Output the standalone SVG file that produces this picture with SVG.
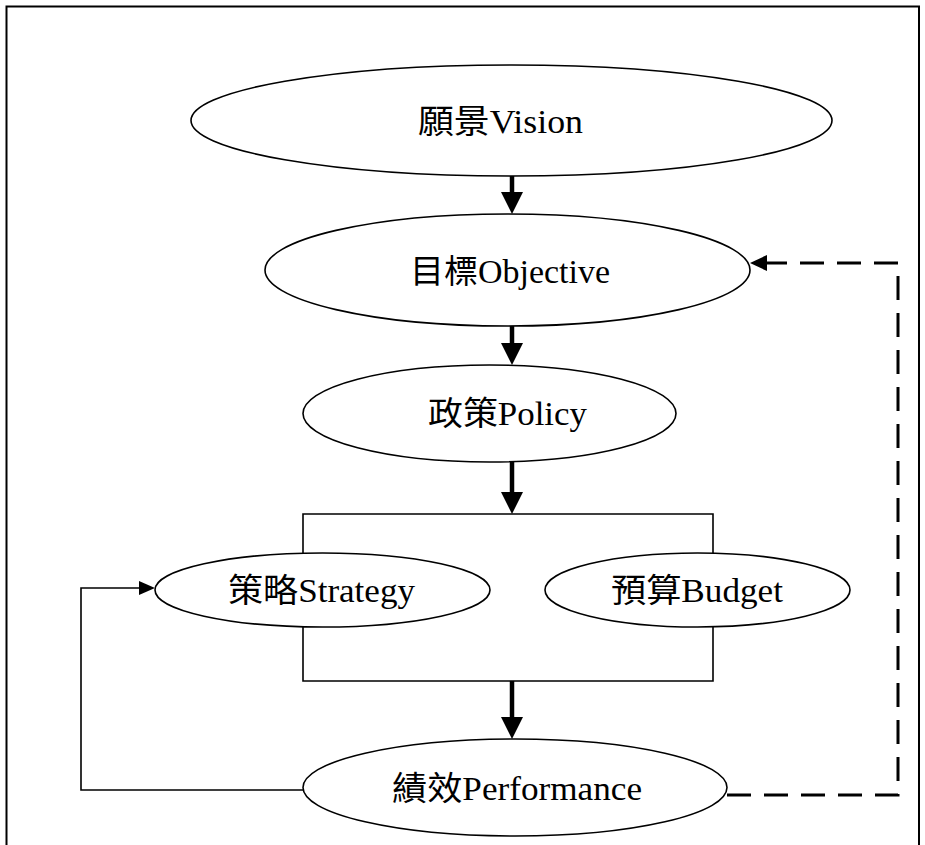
<svg xmlns="http://www.w3.org/2000/svg" width="925" height="845" viewBox="0 0 925 845">
<style>
  .node ellipse { fill: #fff; stroke: #000; stroke-width: 1.6; }
  .node text { font-family: "Liberation Serif", "Noto Sans CJK TC", serif; font-size: 33px; fill: #000; }
  .thin { fill: none; stroke: #000; stroke-width: 1.6; }
  .thick { fill: none; stroke: #000; stroke-width: 4.5; }
  .dash { fill: none; stroke: #000; stroke-width: 3; stroke-dasharray: 24 13; }
  .head { fill: #000; stroke: none; }
</style>
<rect x="0" y="0" width="925" height="845" fill="#fff"/>
<path d="M6.5,850 V6.5 H919 V850" fill="none" stroke="#000" stroke-width="2"/>

<g id="connectors">
  <line class="thick" x1="512" y1="176" x2="512" y2="194"/>
  <polygon class="head" points="501,192 523,192 512,214"/>
  <line class="thick" x1="512" y1="326" x2="512" y2="345"/>
  <polygon class="head" points="501,343 523,343 512,365"/>
  <line class="thick" x1="512" y1="462" x2="512" y2="494"/>
  <polygon class="head" points="501,492 523,492 512,514"/>
  <path class="thin" d="M303,553 V514 H713 V553"/>
  <path class="thin" d="M303,627 V681 H713 V627"/>
  <line class="thick" x1="512" y1="681" x2="512" y2="719"/>
  <polygon class="head" points="501,717 523,717 512,739"/>
  <path class="thin" d="M303,790 H81 V588 H141"/>
  <polygon class="head" points="139,581 139,595 155,588"/>
  <path class="dash" d="M727,795 H898 V263 H766"/>
  <polygon class="head" points="767,255 767,271 750,263"/>
</g>

<g id="vision" class="node">
  <ellipse cx="511.5" cy="120.5" rx="320.5" ry="55.5"/>
  <text x="418" y="133" textLength="165" lengthAdjust="spacingAndGlyphs">願景Vision</text>
</g>
<g id="objective" class="node">
  <ellipse cx="507.5" cy="270" rx="242.5" ry="56"/>
  <text x="410" y="283" textLength="200" lengthAdjust="spacingAndGlyphs">目標Objective</text>
</g>
<g id="policy" class="node">
  <ellipse cx="489.5" cy="413.5" rx="186.5" ry="48.5"/>
  <text x="428" y="425" textLength="159" lengthAdjust="spacingAndGlyphs">政策Policy</text>
</g>
<g id="strategy" class="node">
  <ellipse cx="322.5" cy="590" rx="167.5" ry="37"/>
  <text x="228" y="602" textLength="187" lengthAdjust="spacingAndGlyphs">策略Strategy</text>
</g>
<g id="budget" class="node">
  <ellipse cx="697.5" cy="590" rx="152.5" ry="37"/>
  <text x="611" y="602" textLength="172" lengthAdjust="spacingAndGlyphs">預算Budget</text>
</g>
<g id="performance" class="node">
  <ellipse cx="515" cy="787.5" rx="212" ry="48.5"/>
  <text x="392" y="800" textLength="250" lengthAdjust="spacingAndGlyphs">績效Performance</text>
</g>
</svg>
